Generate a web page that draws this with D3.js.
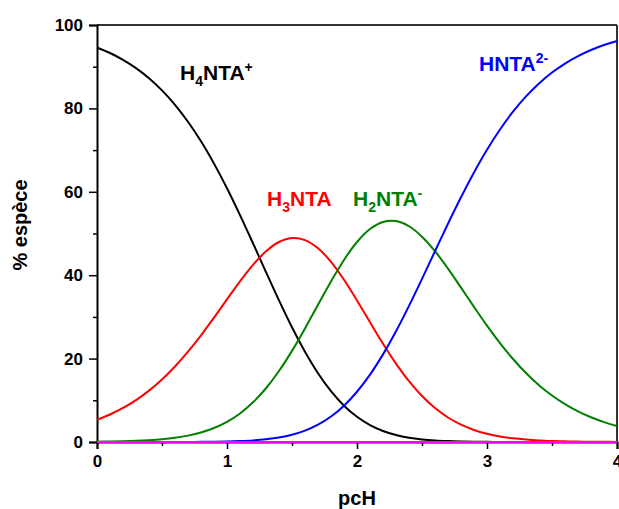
<!DOCTYPE html>
<html><head><meta charset="utf-8">
<script src="https://cdn.jsdelivr.net/npm/d3@7"></script>
<style>
html,body{margin:0;padding:0;background:#fff;}
svg{display:block;font-family:"Liberation Sans",Arial,sans-serif;font-weight:bold;}
</style></head>
<body>
<svg id="chart" width="619" height="509"></svg>
<script>
// pcH values
const pcH = [0,0.1,0.2,0.3,0.4,0.5,0.6,0.7,0.8,0.9,1.0,1.1,1.2,1.3,1.4,1.5,1.6,1.7,1.8,1.9,2.0,2.1,2.2,2.3,2.4,2.5,2.6,2.7,2.8,2.9,3.0,3.1,3.2,3.3,3.4,3.5,3.6,3.7,3.8,3.9,4.0];
// % species
const h4nta = [94.60,93.28,91.65,89.66,87.24,84.33,80.87,76.80,72.10,66.76,60.84,54.41,47.65,40.75,33.95,27.50,21.63,16.49,12.18,8.71,6.04,4.06,2.65,1.68,1.03,0.62,0.36,0.21,0.12,0.07,0.04,0.02,0.01,0,0,0,0,0,0,0,0];
const h3nta = [5.32,6.60,8.17,10.06,12.32,15.00,18.10,21.65,25.58,29.82,34.21,38.52,42.47,45.72,47.96,48.91,48.42,46.47,43.21,38.91,33.95,28.72,23.57,18.80,14.58,11.02,8.14,5.87,4.16,2.89,1.98,1.33,0.89,0.59,0.38,0.25,0.16,0.10,0.07,0.04,0.03];
const h2nta = [0.08,0.12,0.18,0.28,0.44,0.67,1.02,1.53,2.28,3.35,4.83,6.85,9.51,12.89,17.02,21.85,27.23,32.90,38.51,43.66,47.96,51.07,52.77,52.98,51.74,49.24,45.75,41.58,37.03,32.40,27.90,23.70,19.90,16.54,13.63,11.15,9.08,7.35,5.93,4.77,3.83];
const hnta = [0,0,0,0,0,0.01,0.01,0.02,0.04,0.07,0.12,0.22,0.38,0.65,1.07,1.74,2.72,4.14,6.10,8.71,12.05,16.15,21.01,26.55,32.65,39.11,45.75,52.34,58.69,64.65,70.09,74.95,79.21,82.87,85.99,88.60,90.76,92.54,94.00,95.19,96.15];
const nta = [0,0,0,0,0,0,0,0,0,0,0,0,0,0,0,0,0,0,0,0,0,0,0,0,0,0,0,0,0,0,0,0,0,0,0,0,0,0,0,0,0];

const xTicks = [0,1,2,3,4];
const xMinor = [0.5,1.5,2.5,3.5];
const yTicks = [0,20,40,60,80,100];
const yMinor = [10,30,50,70,90];

const svg = d3.select("#chart");
const pL = 97, pR = 617, pT = 25, pB = 442;
const x = d3.scaleLinear().domain([0,4]).range([pL,pR]);
const y = d3.scaleLinear().domain([0,100]).range([pB,pT]);

// frame top/right
svg.append("line").attr("x1",pL).attr("x2",pR).attr("y1",pT).attr("y2",pT)
  .attr("stroke","#333").attr("stroke-width",2);
svg.append("line").attr("x1",pR).attr("x2",pR).attr("y1",pT).attr("y2",pB)
  .attr("stroke","#333").attr("stroke-width",2);

// axes
const xAxis = svg.append("g").attr("transform",`translate(0,${pB})`)
  .call(d3.axisBottom(x).tickValues(xTicks).tickFormat(d3.format("d")).tickSize(7).tickPadding(6));
const xAxisMinor = svg.append("g").attr("transform",`translate(0,${pB})`)
  .call(d3.axisBottom(x).tickValues(xMinor).tickFormat("").tickSize(4));
const yAxis = svg.append("g").attr("transform",`translate(${pL},0)`)
  .call(d3.axisLeft(y).tickValues(yTicks).tickSize(8).tickPadding(6));
const yAxisMinor = svg.append("g").attr("transform",`translate(${pL},0)`)
  .call(d3.axisLeft(y).tickValues(yMinor).tickFormat("").tickSize(4));
[xAxis,xAxisMinor,yAxis,yAxisMinor].forEach(g=>{
  g.select(".domain").attr("stroke","#000").attr("stroke-width",2);
  g.selectAll(".tick line").attr("stroke","#000").attr("stroke-width",1.5);
  g.selectAll(".tick text").attr("fill","#000").attr("font-size",17)
    .attr("font-family","'Liberation Sans',Arial,sans-serif").attr("font-weight","bold");
});
xAxisMinor.select(".domain").remove(); yAxisMinor.select(".domain").remove();

// series
const series = [
  {v:h4nta,c:"#000000"},
  {v:h3nta,c:"#ff0000"},
  {v:h2nta,c:"#008000"},
  {v:hnta,c:"#0000ff"},
  {v:nta,c:"#ff00ff"}
];
const line = d3.line().x((d,i)=>x(pcH[i])).y(d=>y(d)).curve(d3.curveCatmullRom);
series.forEach(s=>{
  svg.append("path").datum(s.v).attr("d",line).attr("fill","none")
    .attr("stroke",s.c).attr("stroke-width",2);
});

// species labels
function label(xp,yp,color,parts){
  const t = svg.append("text").attr("x",xp).attr("y",yp).attr("fill",color).attr("font-size",21);
  let shift = 0;
  parts.forEach(p=>{
    const ts = t.append("tspan").text(p.t);
    let target = p.sub ? 6 : (p.sup ? -8 : 0);
    ts.attr("dy", target - shift);
    shift = target;
    if (p.sub || p.sup) ts.attr("font-size",14);
  });
}
label(180,80,"#000",[{t:"H"},{t:"4",sub:1},{t:"NTA"},{t:"+",sup:1}]);
label(267,206,"#ff0000",[{t:"H"},{t:"3",sub:1},{t:"NTA"}]);
label(353,206,"#008000",[{t:"H"},{t:"2",sub:1},{t:"NTA"},{t:"-",sup:1}]);
label(479,71,"#0000ff",[{t:"HNTA"},{t:"2-",sup:1}]);

// axis titles
svg.append("text").attr("x",(pL+pR)/2).attr("y",505).attr("text-anchor","middle")
  .attr("font-size",20).attr("fill","#000").text("pcH");
svg.append("text").attr("transform","translate(27,225) rotate(-90)").attr("text-anchor","middle")
  .attr("font-size",20).attr("fill","#000").text("% espèce");
</script>
</body></html>
